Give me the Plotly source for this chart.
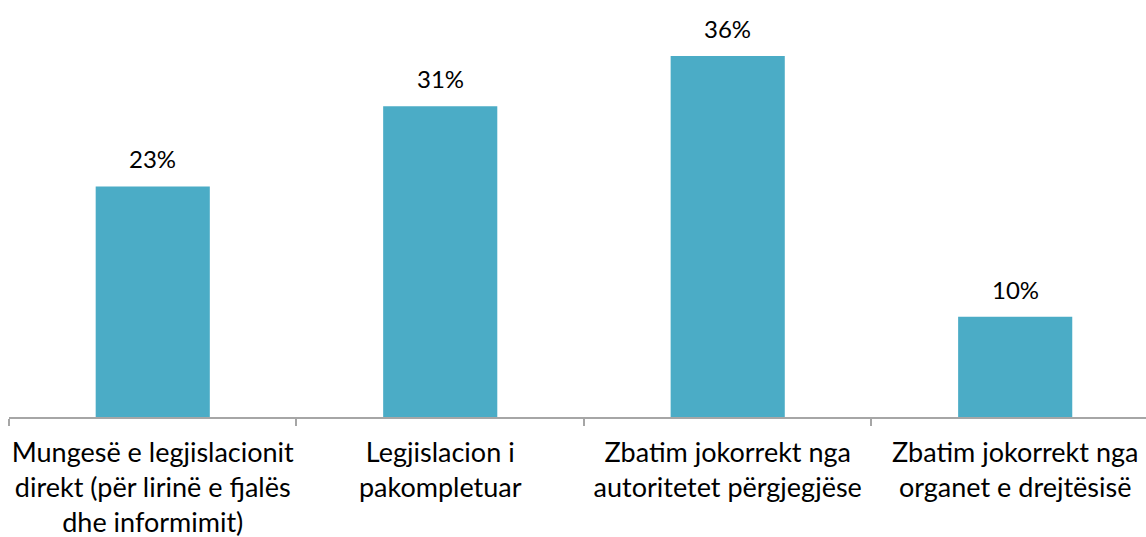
import plotly.graph_objects as go

categories = [
    "Mungesë e legjislacionit<br>direkt (për lirinë e fjalës<br>dhe informimit)",
    "Legjislacion i<br>pakompletuar",
    "Zbatim jokorrekt nga<br>autoritetet përgjegjëse",
    "Zbatim jokorrekt nga<br>organet e drejtësisë",
]
values = [23, 31, 36, 10]
labels = ["23%", "31%", "36%", "10%"]

FONT = "Lato"

fig = go.Figure()
fig.add_trace(go.Bar(
    x=categories, y=values,
    marker=dict(color="#4BACC6", line=dict(width=0)),
    width=0.397,
    hoverinfo="skip",
))
for c, v, t in zip(categories, values, labels):
    fig.add_annotation(x=c, y=v, text=t, showarrow=False, yanchor="bottom",
                       yshift=11, font=dict(family=FONT, size=24, color="#000000"))

fig.update_layout(
    width=1146, height=537,
    margin=dict(l=9, r=0, t=16, b=120),
    paper_bgcolor="white", plot_bgcolor="white",
    showlegend=False,
    bargap=0.6,
)
fig.update_xaxes(
    range=[-0.5, 3.455],
    automargin=False,
    showline=True, linecolor="#A6A6A6", linewidth=1.5,
    ticks="outside", tickson="boundaries", ticklen=7, tickcolor="#A6A6A6", tickwidth=1.5,
    tickfont=dict(family=FONT, size=27, color="#000000"),
    ticklabelstandoff=11,
    showgrid=False, tickangle=0,
)
fig.update_yaxes(range=[0, 40], visible=False, showgrid=False, automargin=False)

fig.write_html("out.html",
               config={"displayModeBar": False},
               post_script="document.body.style.margin='0';document.body.style.overflow='hidden';")
